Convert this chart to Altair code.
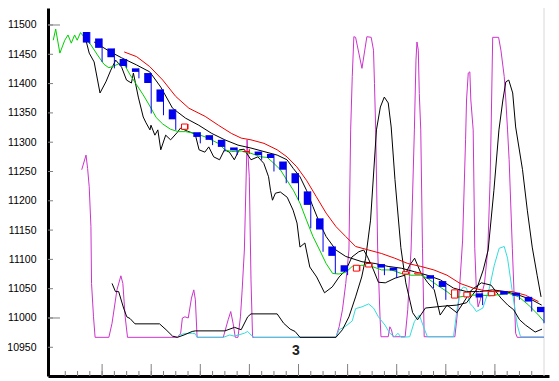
import altair as alt
import pandas as pd

# ---------------- candles (one per day, day index 3..40) ----------------
candle_day = list(range(3, 41))
candle_open = [11488, 11477, 11460, 11442, 11426, 11418, 11390, 11356, 11322, 11317,
               11312, 11304, 11291, 11284, 11284, 11280, 11267, 11247, 11216, 11170,
               11122, 11090, 11080, 11087, 11092, 11086, 11075, 11075, 11073, 11063,
               11034, 11036, 11042, 11038, 11046, 11043, 11036, 11019]
candle_close = [11470, 11461, 11445, 11430, 11420, 11401, 11369, 11339, 11331, 11309,
                11304, 11292, 11286, 11284, 11278, 11273, 11253, 11230, 11193, 11151,
                11106, 11079, 11090, 11093, 11086, 11081, 11079, 11077, 11067, 11053,
                11048, 11044, 11035, 11045, 11040, 11038, 11028, 11010]
candle_low = [11468, 11437, 11426, 11427, 11409, 11349, 11346, 11321, 11322, 11298,
              11295, 11284, 11278, 11280, 11270, 11250, 11230, 11201, 11153, 11113,
              11076, 11073, 11080, 11087, 11073, 11068, 11075, 11075, 11051, 11031,
              11034, 11036, 11022, 11038, 11040, 11031, 11011, 10991]
candle_high = [11488, 11477, 11460, 11442, 11426, 11418, 11390, 11356, 11331, 11317,
               11312, 11304, 11291, 11288, 11284, 11280, 11267, 11247, 11216, 11170,
               11122, 11090, 11090, 11093, 11092, 11086, 11079, 11077, 11073, 11063,
               11048, 11044, 11042, 11045, 11046, 11043, 11036, 11019]

# ---------------- lines (day, value) ----------------
green_d = [0.02, 0.22, 0.56, 0.96, 1.22, 1.49, 1.76, 1.97, 2.24, 2.55, 3.09, 3.62, 4.15, 4.55,
           4.95, 5.49, 5.88, 6.28, 6.81, 7.34, 7.88, 8.41, 8.94, 9.58, 10.22, 10.8, 11.6, 12.4,
           13.47, 14.0, 14.53, 15.33, 16.13, 16.93, 17.46, 17.99, 18.52, 19.06, 19.58, 20.12,
           20.65, 21.18, 21.72, 22.25, 22.78, 23.31, 23.85, 24.38, 25.17, 25.97, 26.77, 27.57,
           28.37, 29.17, 29.96, 30.5, 31.3, 32.1, 32.63, 33.16, 33.96, 34.75, 35.55, 36.35,
           37.15, 37.95, 38.75, 39.55, 40.0]
green_v = [11474, 11493, 11452, 11474, 11483, 11469, 11483, 11474, 11487, 11479, 11466, 11449,
           11433, 11427, 11430, 11435, 11430, 11415, 11398, 11381, 11362, 11342, 11331, 11322,
           11318, 11318, 11315, 11309, 11298, 11287, 11284, 11285, 11281, 11275, 11274, 11264,
           11253, 11235, 11218, 11196, 11167, 11139, 11116, 11093, 11076, 11075, 11078, 11088,
           11090, 11088, 11082, 11082, 11076, 11073, 11073, 11068, 11056, 11045, 11036, 11036,
           11039, 11039, 11038, 11040, 11042, 11036, 11022, 11005, 10994]

red_d = [5.8, 6.81, 7.88, 8.94, 10.0, 11.07, 12.4, 13.47, 14.53, 15.33, 16.13, 17.19, 18.26,
         19.06, 19.86, 20.65, 21.45, 22.25, 23.05, 23.85, 24.65, 25.71, 26.77, 27.84, 28.9,
         29.96, 31.03, 32.1, 33.16, 34.23, 35.29, 36.35, 37.42, 38.48, 39.55]
red_v = [11454, 11446, 11429, 11406, 11378, 11358, 11344, 11329, 11315, 11307, 11304, 11298,
         11287, 11275, 11258, 11235, 11207, 11179, 11156, 11139, 11122, 11116, 11110, 11102,
         11093, 11088, 11082, 11073, 11059, 11051, 11046, 11045, 11045, 11039, 11028]

ma_d = [3.35, 4.69, 5.59, 6.79, 7.88, 8.78, 9.74, 10.8, 11.87, 12.93, 14.0, 15.07, 16.13,
        17.19, 18.26, 19.06, 19.58, 20.12, 20.65, 21.18, 21.72, 22.25, 23.05, 23.85, 25.17,
        26.24, 27.3, 28.37, 29.44, 30.5, 31.56, 32.63, 33.69, 34.75, 35.82, 36.89, 37.95,
        39.01, 39.81]
ma_v = [11471, 11454, 11444, 11432, 11420, 11394, 11358, 11341, 11329, 11315, 11304, 11295,
        11290, 11284, 11278, 11270, 11255, 11241, 11218, 11190, 11162, 11139, 11116, 11105,
        11096, 11093, 11088, 11085, 11079, 11073, 11065, 11051, 11045, 11045, 11048, 11045,
        11039, 11031, 11022]

low_d = [2.55, 2.95, 3.35, 3.83, 4.31, 4.71, 5.11, 5.59, 5.99, 6.39, 6.55, 6.95, 7.35, 7.58,
         7.9, 7.98, 8.3, 8.54, 8.78, 9.18, 9.58, 10.14, 10.38, 10.94, 11.58, 11.9, 12.37,
         12.69, 13.09, 13.57, 13.97, 14.37, 14.77, 15.17, 15.57, 16.13, 16.69, 17.17, 17.56,
         17.72, 17.88, 18.12, 18.52, 19.08, 19.56, 19.88, 20.12, 20.52, 20.92, 21.48, 22.12,
         22.75, 23.31, 23.87, 24.35, 24.91, 25.31, 25.63, 26.11, 26.51, 27.07, 27.87, 28.66,
         29.06, 29.46, 29.94, 30.5, 31.06, 31.54, 32.1, 32.9, 33.46, 34.1, 34.9, 35.69, 36.49,
         37.05, 37.53, 38.01, 38.49, 39.28, 39.84]
low_v = [11485, 11452, 11437, 11384, 11403, 11423, 11440, 11428, 11406, 11401, 11418, 11377,
         11343, 11333, 11321, 11329, 11312, 11321, 11287, 11312, 11304, 11317, 11324, 11319,
         11314, 11287, 11283, 11292, 11275, 11270, 11287, 11283, 11270, 11287, 11288, 11270,
         11275, 11264, 11241, 11218, 11201, 11213, 11215, 11206, 11184, 11162, 11121, 11128,
         11087, 11070, 11043, 11053, 11070, 11082, 11104, 11113, 11116, 11104, 11082, 11061,
         11060, 11068, 11073, 11090, 11102, 11078, 11061, 11048, 11005, 11022, 11009, 11027,
         11048, 11060, 11056, 11034, 11022, 11014, 10997, 10988, 10976, 10981]

osc_d = [4.81, 5.09, 5.35, 5.75, 6.01, 6.28, 6.68, 8.68, 9.21, 9.74, 10.14, 10.67, 11.34,
         11.6, 14.0, 14.79, 15.33, 15.86, 16.13, 18.26, 18.79, 19.32, 19.72, 20.12, 23.05,
         23.58, 24.11, 24.65, 25.15, 25.47, 25.87, 26.35, 26.67, 26.99, 27.31, 27.55, 27.86,
         28.34, 28.74, 29.3, 29.7, 30.34, 31.7, 32.9, 33.69, 34.49, 35.05, 35.45, 35.92,
         36.33, 36.65, 36.89, 37.13, 37.45, 37.69, 38.25, 38.64, 39.04, 39.44, 39.76]
osc_v = [11059, 11045, 11045, 11017, 11002, 10999, 10990, 10990, 10980, 10969, 10967, 10971,
         10977, 10978, 10978, 10984, 10980, 11002, 11007, 11007, 10991, 10981, 10977, 10967,
         10967, 10980, 11002, 11036, 11070, 11102, 11167, 11321, 11360, 11377, 11367, 11326,
         11236, 11120, 11060, 11009, 10997, 11017, 11020, 11022, 11026, 11048, 11082, 11116,
         11218, 11321, 11372, 11403, 11406, 11384, 11326, 11253, 11184, 11121, 11073, 11036]

mag_d = [2.34, 2.69, 2.82, 2.95, 3.09, 3.14, 3.3, 3.43, 4.55, 4.81, 5.21, 5.53, 5.69, 5.88,
         6.07, 10.14, 10.4, 10.54, 10.75, 11.02, 11.28, 11.47, 11.6, 11.74, 13.87, 14.27,
         14.48, 14.67, 14.85, 15.07, 15.27, 15.41, 15.59, 15.81, 15.99, 16.13, 16.26, 23.05,
         23.31, 23.58, 23.85, 24.11, 24.25, 24.38, 24.51, 24.65, 25.17, 25.57, 25.92, 26.11,
         26.19, 26.29, 26.45, 26.64, 26.72, 27.31, 27.44, 27.57, 27.7, 28.69, 28.9, 29.04,
         29.17, 29.44, 29.57, 29.65, 29.76, 29.84, 29.96, 30.1, 30.24, 32.74, 33.06, 33.37,
         33.61, 33.69, 33.83, 33.96, 34.04, 34.23, 34.36, 34.49, 34.63, 34.81, 35.15, 35.42,
         35.61, 35.69, 35.82, 36.3, 36.49, 36.76, 36.89, 37.03, 37.16, 37.42, 37.55, 37.69,
         37.82, 40.0]
mag_v = [11253, 11278, 11255, 11224, 11156, 11059, 11002, 10967, 10967, 10991, 11048, 11072,
         11059, 11002, 10967, 10967, 10974, 11000, 11002, 11000, 11034, 11048, 11031, 10967,
         10967, 10997, 11011, 10991, 10967, 10967, 11002, 11048, 11116, 11304, 11241, 11065,
         10967, 10967, 10985, 11014, 11059, 11116, 11321, 11412, 11480, 11479, 11426, 11480,
         11479, 11457, 11400, 11321, 11116, 11002, 10968, 10968, 10985, 10980, 10968, 10968,
         11014, 11071, 11116, 11321, 11440, 11471, 11457, 11383, 11321, 11119, 10968, 10968,
         11031, 11133, 11304, 11372, 11418, 11420, 11372, 11321, 11119, 11048, 11019, 11031,
         11059, 11116, 11235, 11321, 11479, 11479, 11457, 11412, 11372, 11321, 11270, 11119,
         11048, 10974, 10967, 10967]

cyan_d = [10.27, 10.67, 11.34, 11.6, 11.74, 13.87, 14.4, 14.77, 15.59, 15.86, 16.13, 16.39,
          23.05, 23.31, 23.85, 24.38, 24.65, 25.17, 25.71, 26.11, 26.51, 27.04, 27.44, 27.84,
          28.1, 28.37, 29.06, 29.44, 29.84, 30.24, 30.5, 32.63, 32.89, 33.16, 33.43, 33.69,
          33.96, 34.23, 34.49, 35.02, 35.55, 35.95, 36.35, 36.76, 37.03, 37.42, 37.82, 38.09,
          40.0]
cyan_v = [10971, 10973, 10974, 10973, 10967, 10967, 10971, 10969, 10974, 10977, 10971, 10967,
          10967, 10980, 10986, 10995, 11016, 11019, 11024, 11017, 11002, 10988, 10974, 10968,
          10974, 10967, 10968, 10994, 11005, 10982, 10968, 10968, 11011, 11045, 11053, 11051,
          11025, 11019, 11011, 11017, 11051, 11090, 11119, 11122, 11102, 11045, 10988, 10968,
          10968]

# ---------------- axes / ticks / labels ----------------
y_tick_values = [10950, 11000, 11050, 11100, 11150, 11200, 11250, 11300, 11350, 11400,
                 11450, 11500]
y_major_ticks = [11000, 11500]
x_tick_days = list(range(1, 40))
x_major_ticks = [4, 8, 12, 16, 20, 24, 28, 32, 36]
month_labels = ["3"]
month_label_days = [20]

W, H = 501, 368
xs = alt.Scale(domain=[0, 40], nice=False, zero=False)
ys = alt.Scale(domain=[10901, 11529], nice=False, zero=False)
xaxis = alt.Axis(labels=False, ticks=False, grid=False, domainColor="black",
                 domainWidth=3, title=None)
yaxis = alt.Axis(values=y_tick_values, format="d", ticks=False, tickSize=0, grid=False,
                 labelPadding=12, labelFont="Liberation Sans", labelFontSize=10.5,
                 labelColor="black", domainColor="black", domainWidth=3, title=None,
                 labelBound=False)


def X(field="d"):
    return alt.X(f"{field}:Q", scale=xs, axis=xaxis)


def Y(field="v"):
    return alt.Y(f"{field}:Q", scale=ys, axis=yaxis)


def line(d, v, color):
    df = pd.DataFrame({"d": d, "v": v})
    return alt.Chart(df).mark_line(color=color, strokeWidth=1).encode(x=X(), y=Y())


cd = pd.DataFrame({"d": candle_day, "o": candle_open, "c": candle_close,
                   "lo": candle_low, "hi": candle_high})
cd["up"] = cd["c"] >= cd["o"]
down = cd[~cd["up"]]
up = cd[cd["up"]]

xt_all = pd.DataFrame({"d": x_tick_days})
xt_major = pd.DataFrame({"d": x_major_ticks})
yt_all = pd.DataFrame({"v": y_tick_values})
yt_major = pd.DataFrame({"v": y_major_ticks})

tick_color = "#808080"
xticks = alt.Chart(xt_all).mark_rule(color=tick_color).encode(
    x=X(), y=alt.value(H), y2=alt.value(H - 5))
xticks_major = alt.Chart(xt_major).mark_rule(color=tick_color).encode(
    x=X(), y=alt.value(H), y2=alt.value(H - 12))
yticks = alt.Chart(yt_all).mark_rule(color=tick_color).encode(
    y=Y(), x=alt.value(0), x2=alt.value(5))
yticks_major = alt.Chart(yt_major).mark_rule(color=tick_color).encode(
    y=Y(), x=alt.value(0), x2=alt.value(12))
right_edge = alt.Chart(pd.DataFrame({"d": [40]})).mark_rule(color="#d8d8d8").encode(
    x=X(), y=alt.value(0), y2=alt.value(H))

wick_down = alt.Chart(down).mark_rule(color="#0000ee", strokeWidth=1).encode(
    x=X(), y=Y("lo"), y2="hi:Q")
wick_up = alt.Chart(up).mark_rule(color="#ff0000", strokeWidth=1).encode(
    x=X(), y=Y("lo"), y2="hi:Q")
body_down = alt.Chart(down).mark_bar(color="#0000ee", size=7, xOffset=-3.5).encode(
    x=X(), y=Y("o"), y2="c:Q")
body_up = alt.Chart(up).mark_bar(fill="white", stroke="#ff0000", strokeWidth=1,
                                 size=6, xOffset=-3.5).encode(
    x=X(), y=Y("o"), y2="c:Q")

month = alt.Chart(pd.DataFrame({"d": month_label_days, "t": month_labels})).mark_text(
    fontWeight="bold", fontSize=14, font="Liberation Sans", dx=-2.5, baseline="middle",
    color="#222222").encode(x=X(), y=alt.value(343), text="t:N")

chart = alt.layer(
    right_edge, xticks, xticks_major, yticks, yticks_major,
    line(mag_d, mag_v, "#cc33cc"),
    line(cyan_d, cyan_v, "#33dddd"),
    line(osc_d, osc_v, "#000000"),
    line(low_d, low_v, "#000000"),
    line(ma_d, ma_v, "#000000"),
    line(green_d, green_v, "#00d000"),
    line(red_d, red_v, "#ee0000"),
    wick_down, wick_up, body_down, body_up, month,
).properties(
    width=W, height=H,
    autosize=alt.AutoSizeParams(type="none"),
    padding={"left": 40, "top": 0, "right": 2, "bottom": 3},
    background="white",
).configure_view(stroke=None)

chart.save("out.html", embed_options={"renderer": "svg", "actions": False})
